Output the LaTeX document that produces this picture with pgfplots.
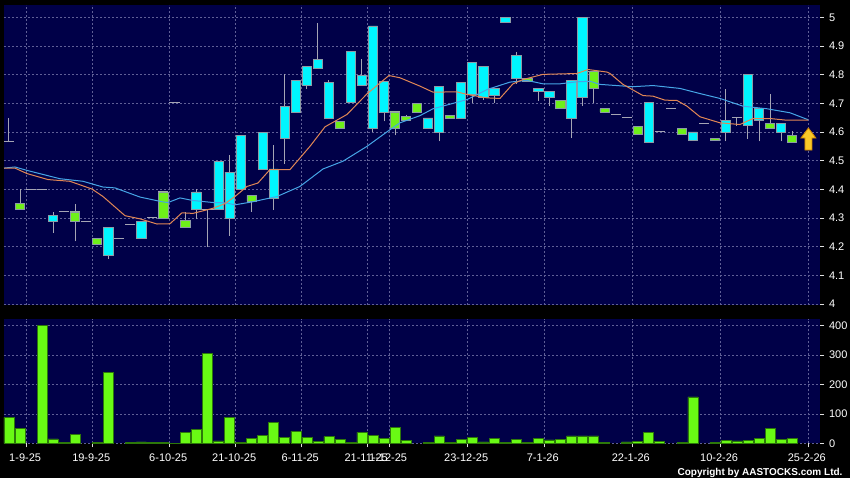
\documentclass[border=0pt]{standalone}
\usepackage{pgfplots}
\pgfplotsset{compat=1.18}
\usepackage{pgfplotstable}
\usepackage{fontspec}
\setmainfont{Liberation Sans}

\definecolor{navy}{RGB}{0,0,72}
\definecolor{gridc}{RGB}{95,95,150}
\definecolor{upc}{RGB}{0,245,255}
\definecolor{dnc}{RGB}{110,240,25}
\definecolor{edgec}{RGB}{140,155,165}
\definecolor{wickc}{RGB}{165,165,180}
\definecolor{maone}{RGB}{225,135,85}
\definecolor{matwo}{RGB}{70,165,230}
\definecolor{volc}{RGB}{105,250,20}
\definecolor{voledge}{RGB}{45,120,10}
\definecolor{arrowc}{RGB}{250,200,40}
\definecolor{arrowedge}{RGB}{205,130,0}

\pgfplotstableread{
s o h l c
0 4.567 4.649 4.567 4.567
1 4.350 4.401 4.331 4.331
2 4.401 4.401 4.401 4.401
3 4.401 4.401 4.401 4.401
4 4.289 4.322 4.249 4.310
5 4.321 4.321 4.321 4.321
6 4.321 4.350 4.218 4.288
7 4.289 4.289 4.289 4.289
8 4.230 4.230 4.209 4.209
9 4.170 4.268 4.158 4.268
10 4.230 4.230 4.230 4.230
11 4.279 4.279 4.279 4.279
12 4.230 4.288 4.230 4.288
13 4.300 4.300 4.300 4.300
14 4.391 4.391 4.300 4.300
15 4.702 4.702 4.702 4.702
16 4.290 4.320 4.268 4.268
17 4.331 4.401 4.297 4.391
18 4.331 4.331 4.198 4.331
19 4.331 4.498 4.331 4.498
20 4.300 4.521 4.238 4.460
21 4.401 4.588 4.401 4.588
22 4.379 4.379 4.321 4.358
23 4.471 4.599 4.471 4.599
24 4.370 4.553 4.329 4.471
25 4.579 4.801 4.488 4.690
26 4.670 4.780 4.670 4.780
27 4.762 4.830 4.751 4.830
28 4.821 4.981 4.821 4.852
29 4.649 4.780 4.649 4.772
30 4.637 4.637 4.611 4.611
31 4.702 4.880 4.702 4.880
32 4.762 4.853 4.762 4.798
33 4.612 4.970 4.599 4.970
34 4.670 4.777 4.637 4.777
35 4.670 4.670 4.588 4.612
36 4.653 4.660 4.639 4.639
37 4.699 4.699 4.670 4.670
38 4.612 4.649 4.612 4.649
39 4.600 4.760 4.567 4.760
40 4.657 4.657 4.649 4.649
41 4.649 4.772 4.649 4.772
42 4.731 4.841 4.702 4.841
43 4.719 4.830 4.713 4.830
44 4.729 4.751 4.702 4.751
45 4.981 4.999 4.981 4.999
46 4.787 4.880 4.769 4.868
47 4.787 4.787 4.777 4.777
48 4.740 4.751 4.708 4.751
49 4.719 4.740 4.690 4.740
50 4.710 4.710 4.681 4.681
51 4.649 4.780 4.579 4.780
52 4.719 4.999 4.690 4.999
53 4.812 4.812 4.702 4.751
54 4.681 4.681 4.670 4.670
55 4.661 4.661 4.661 4.661
56 4.649 4.649 4.649 4.649
57 4.620 4.620 4.591 4.591
58 4.562 4.702 4.562 4.702
59 4.600 4.600 4.600 4.600
60 4.682 4.682 4.682 4.682
61 4.611 4.611 4.590 4.590
62 4.570 4.600 4.570 4.600
63 4.631 4.631 4.631 4.631
64 4.579 4.579 4.569 4.569
65 4.600 4.751 4.567 4.640
66 4.649 4.649 4.622 4.649
67 4.622 4.801 4.577 4.801
68 4.640 4.682 4.567 4.682
69 4.631 4.731 4.611 4.611
70 4.600 4.631 4.567 4.631
71 4.589 4.603 4.562 4.562
}\candles

\pgfplotstableread{
s v
0 88
1 51
3 402
4 15
5 3
6 31
8 3
9 241
11 4
12 5
13 2
14 3
15 1
16 37
17 48
18 305
19 8
20 87
21 4
22 17
23 26
24 70
25 20
26 41
27 21
28 6
29 23
30 14
31 3
32 37
33 28
34 18
35 53
36 9
38 3
39 25
40 4
41 13
42 20
43 5
44 18
45 3
46 14
47 4
48 17
49 12
50 13
51 25
52 25
53 25
54 4
56 5
57 7
58 36
59 6
61 3
62 158
64 3
65 11
66 8
67 10
68 18
69 52
70 13
71 17
}\volumes

\pgfplotstableread{
s p
-0.45 4.474
0.54 4.478
1.63 4.466
4.62 4.437
6.71 4.428
8.52 4.408
9.61 4.405
11.88 4.373
13.96 4.356
14.42 4.354
15.50 4.370
16.68 4.361
18.50 4.354
19.58 4.353
20.49 4.346
22.03 4.356
24.30 4.375
26.38 4.410
28.47 4.471
30.28 4.498
32.46 4.550
34.54 4.608
35.45 4.632
37.26 4.657
38.44 4.681
41.52 4.713
43.34 4.748
45.42 4.774
46.96 4.780
48.41 4.768
49.95 4.768
51.50 4.775
52.68 4.777
53.58 4.766
56.57 4.758
58.39 4.762
60.83 4.752
62.65 4.734
64.46 4.717
66.55 4.690
68.72 4.681
70.81 4.667
72.44 4.643
}\maslow

\pgfplotstableread{
s p
-0.45 4.474
0.54 4.474
1.63 4.455
3.54 4.434
5.53 4.428
7.52 4.401
8.52 4.375
10.52 4.308
11.88 4.297
13.42 4.279
14.60 4.280
15.68 4.318
16.68 4.316
18.50 4.334
19.58 4.350
20.49 4.375
21.58 4.410
22.57 4.422
23.66 4.469
25.48 4.469
27.29 4.550
28.65 4.618
30.64 4.661
32.46 4.733
34.45 4.797
35.45 4.789
37.26 4.760
38.44 4.739
40.62 4.740
41.52 4.731
43.34 4.719
44.51 4.717
45.69 4.768
46.60 4.783
48.41 4.801
51.50 4.804
52.49 4.818
54.22 4.809
54.49 4.804
55.67 4.766
57.48 4.727
58.39 4.725
59.47 4.711
60.56 4.710
61.47 4.690
62.65 4.653
64.46 4.632
66.27 4.626
67.45 4.647
68.99 4.647
70.53 4.641
72.44 4.641
}\mafast

\pgfdeclareplotmark{bigarrow}{%
  \pgfpathmoveto{\pgfpoint{0pt}{11pt}}%
  \pgfpathlineto{\pgfpoint{7.5pt}{1pt}}%
  \pgfpathlineto{\pgfpoint{3.5pt}{1pt}}%
  \pgfpathlineto{\pgfpoint{3.5pt}{-11pt}}%
  \pgfpathlineto{\pgfpoint{-3.5pt}{-11pt}}%
  \pgfpathlineto{\pgfpoint{-3.5pt}{1pt}}%
  \pgfpathlineto{\pgfpoint{-7.5pt}{1pt}}%
  \pgfpathclose
  \pgfusepathqfillstroke}

\pgfplotsset{
  pricebase/.style={scale only axis, width=816pt, height=300pt,
    at={(4pt,173pt)}, anchor=south west,
    xmin=-0.453, xmax=73.53, ymin=3.9965, ymax=5.043},
  datetick/.style={xtick={1.60,7.59,14.57,20.55,26.54,32.52,34.51,41.59,48.53,56.51,64.52,72.47}},
}

\begin{document}
\begin{tikzpicture}[x=1pt,y=1pt]
\path[use as bounding box] (0,0) rectangle (850,478);
\fill[black] (0,0) rectangle (850,478);

% price panel: background, grid, ticks, wicks, flat ticks
\begin{axis}[pricebase, datetick,
  axis background/.style={fill=navy},
  axis line style={draw=none},
  xticklabels={},
  xtick style={draw=none},
  ytick={4,4.1,4.2,4.3,4.4,4.5,4.6,4.7,4.8,4.9,5},
  yticklabels={4,4.1,4.2,4.3,4.4,4.5,4.6,4.7,4.8,4.9,5},
  ytick pos=right, tick align=outside, major tick length=4pt,
  ytick style={color=white!75!gray, line width=0.7pt},
  yticklabel style={font=\fontsize{11}{13}\selectfont, text=white, xshift=1.5pt},
  grid=major,
  major grid style={gridc, dash pattern=on 2pt off 2pt, line width=0.6pt},
]
\addplot[draw=none, mark=none,
  error bars/.cd, y dir=plus, y explicit, error mark=none,
  error bar style={draw=wickc, line width=1pt}]
  table[x=s, y=l, y error plus expr=\thisrow{h}-\thisrow{l}] {\candles};
\addplot[draw=none, mark=none,
  error bars/.cd, x dir=both, x fixed=0.46, error mark=none,
  error bar style={draw=wickc, line width=1pt}]
  table[x=s, y=o] {\candles};
\end{axis}

% candle bodies
\begin{axis}[pricebase, hide axis, ybar stacked, bar width=9.3pt]
\addplot[draw=none, fill=none] table[x=s, y expr={min(\thisrow{o},\thisrow{c})}] {\candles};
\addplot[fill=upc, draw=edgec, line width=0.8pt] table[x=s, y expr={max(\thisrow{c}-\thisrow{o},0)}] {\candles};
\addplot[fill=dnc, draw=edgec, line width=0.8pt] table[x=s, y expr={max(\thisrow{o}-\thisrow{c},0)}] {\candles};
\end{axis}

% moving averages and arrow
\begin{axis}[pricebase, hide axis]
\addplot[matwo, line width=1pt, mark=none] table[x=s, y=p] {\maslow};
\addplot[maone, line width=1pt, mark=none] table[x=s, y=p] {\mafast};
\addplot[only marks, mark=bigarrow, mark options={fill=arrowc, draw=arrowedge, line width=0.8pt}] coordinates {(72.48,4.5755)};
\end{axis}

% volume panel
\begin{axis}[scale only axis, width=816pt, height=124.3pt,
  at={(4pt,34.7pt)}, anchor=south west,
  xmin=-0.453, xmax=73.53, ymin=0, ymax=423,
  axis background/.style={fill=navy},
  axis line style={draw=none},
  datetick,
  xticklabels={1-9-25,19-9-25,6-10-25,21-10-25,6-11-25,21-11-25,1-12-25,23-12-25,7-1-26,22-1-26,10-2-26,25-2-26},
  xtick pos=bottom, ytick pos=right,
  ytick={0,100,200,300,400},
  tick align=outside, major tick length=4pt,
  tick style={color=white!75!gray, line width=0.7pt},
  ticklabel style={font=\fontsize{11}{13}\selectfont, text=white},
  xticklabel style={yshift=-3pt, xshift=-1.5pt},
  yticklabel style={xshift=1.5pt},
  /pgf/number format/assume math mode=true,
  grid=major,
  major grid style={gridc, dash pattern=on 2pt off 2pt, line width=0.6pt},
  ybar, bar width=10pt,
]
\addplot[fill=volc, draw=voledge, line width=0.5pt] table[x=s, y=v] {\volumes};
\end{axis}

\node[anchor=base east, text=white, font=\fontsize{10}{11}\selectfont\bfseries] at (846,2.5) {Copyright by AASTOCKS.com Ltd.};
\end{tikzpicture}
\end{document}
